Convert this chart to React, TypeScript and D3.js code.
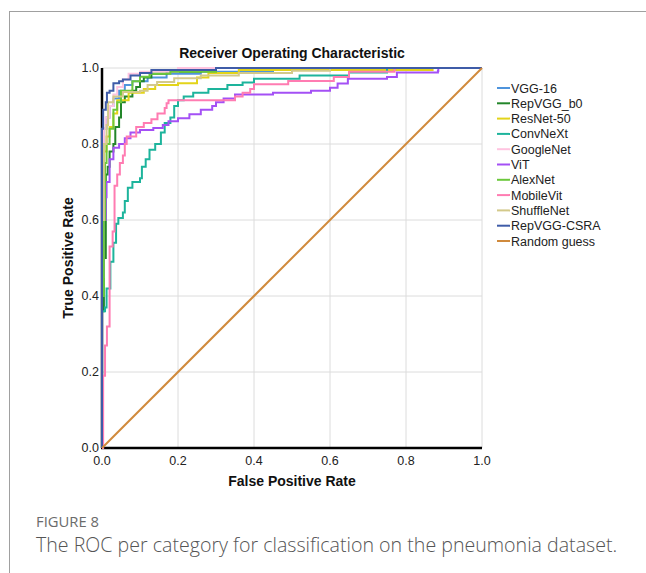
import React from "react";
import * as d3 from "d3";

// ROC points as [fpr, tpr], drawn with a step-after curve
const vgg16: [number, number][] = [
  [0, 0], [0, 0.8], [0.005, 0.84], [0.012, 0.87], [0.02, 0.9], [0.03, 0.92], [0.045, 0.94],
  [0.06, 0.955], [0.08, 0.965], [0.12, 0.975], [0.17, 0.985], [0.26, 0.99], [0.45, 1], [1, 1],
];
const repvggB0: [number, number][] = [
  [0, 0], [0, 0.36], [0.005, 0.5], [0.01, 0.72], [0.015, 0.74], [0.02, 0.78], [0.03, 0.8],
  [0.035, 0.845], [0.045, 0.87], [0.05, 0.91], [0.06, 0.925], [0.08, 0.94], [0.09, 0.95],
  [0.1, 0.965], [0.11, 0.975], [0.13, 0.985], [0.17, 0.99], [0.26, 1], [1, 1],
];
const resnet50: [number, number][] = [
  [0, 0], [0, 0.6], [0.005, 0.78], [0.012, 0.82], [0.02, 0.845], [0.03, 0.88], [0.04, 0.915],
  [0.07, 0.935], [0.11, 0.945], [0.14, 0.955], [0.2, 0.96], [0.25, 0.975], [0.28, 0.987],
  [0.36, 0.995], [0.87, 1], [1, 1],
];
const convnext: [number, number][] = [
  [0, 0], [0, 0.36], [0.008, 0.37], [0.012, 0.42], [0.022, 0.49], [0.03, 0.54], [0.037, 0.59],
  [0.043, 0.605], [0.055, 0.62], [0.06, 0.65], [0.068, 0.685], [0.08, 0.7], [0.1, 0.71],
  [0.105, 0.74], [0.115, 0.76], [0.125, 0.785], [0.14, 0.8], [0.155, 0.83], [0.165, 0.855],
  [0.18, 0.87], [0.19, 0.9], [0.2, 0.915], [0.215, 0.925], [0.24, 0.935], [0.28, 0.945],
  [0.33, 0.955], [0.37, 0.962], [0.4, 0.972], [0.52, 0.98], [0.65, 0.988], [0.75, 1], [1, 1],
];
const googlenet: [number, number][] = [
  [0, 0], [0, 0.78], [0.005, 0.84], [0.01, 0.87], [0.02, 0.9], [0.03, 0.93], [0.04, 0.95],
  [0.055, 0.97], [0.07, 0.985], [0.1, 0.99], [0.2, 1], [1, 1],
];
const vit: [number, number][] = [
  [0, 0], [0, 0.45], [0.005, 0.6], [0.01, 0.66], [0.012, 0.7], [0.02, 0.76], [0.03, 0.79],
  [0.045, 0.8], [0.06, 0.815], [0.075, 0.83], [0.1, 0.837], [0.135, 0.842], [0.16, 0.85],
  [0.175, 0.86], [0.2, 0.868], [0.23, 0.878], [0.26, 0.89], [0.29, 0.9], [0.3, 0.91],
  [0.32, 0.92], [0.35, 0.93], [0.45, 0.935], [0.55, 0.94], [0.6, 0.948], [0.62, 0.959],
  [0.647, 0.972], [0.75, 0.976], [0.776, 0.988], [0.884, 0.992], [0.885, 1], [1, 1],
];
const alexnet: [number, number][] = [
  [0, 0], [0, 0.4], [0.005, 0.6], [0.008, 0.75], [0.012, 0.8], [0.02, 0.84], [0.03, 0.89],
  [0.04, 0.91], [0.05, 0.94], [0.08, 0.965], [0.1, 0.977], [0.125, 0.985], [0.18, 0.99],
  [0.3, 1], [1, 1],
];
const mobilevit: [number, number][] = [
  [0, 0], [0.003, 0.19], [0.008, 0.27], [0.013, 0.32], [0.02, 0.53], [0.028, 0.57],
  [0.033, 0.69], [0.04, 0.72], [0.047, 0.75], [0.055, 0.77], [0.06, 0.8], [0.065, 0.82],
  [0.09, 0.845], [0.11, 0.855], [0.13, 0.865], [0.146, 0.88], [0.165, 0.895], [0.17, 0.907],
  [0.175, 0.915], [0.35, 0.925], [0.37, 0.935], [0.39, 0.945], [0.4, 0.957], [0.49, 0.966],
  [0.61, 0.976], [0.65, 0.99], [0.77, 1], [1, 1],
];
const shufflenet: [number, number][] = [
  [0, 0], [0, 0.6], [0.005, 0.8], [0.012, 0.85], [0.016, 0.91], [0.03, 0.925], [0.055, 0.937],
  [0.1, 0.94], [0.12, 0.955], [0.145, 0.963], [0.19, 0.973], [0.26, 0.98], [0.36, 0.987],
  [0.5, 0.993], [0.6, 1], [1, 1],
];
const repvggCsra: [number, number][] = [
  [0, 0], [0, 0.84], [0.003, 0.89], [0.01, 0.91], [0.013, 0.935], [0.02, 0.94], [0.03, 0.96],
  [0.045, 0.965], [0.055, 0.97], [0.075, 0.98], [0.1, 0.987], [0.13, 0.995], [0.3, 1], [1, 1],
];
const randomGuess: [number, number][] = [[0, 0], [1, 1]];

const seriesNames = [
  "VGG-16", "RepVGG_b0", "ResNet-50", "ConvNeXt", "GoogleNet", "ViT",
  "AlexNet", "MobileVit", "ShuffleNet", "RepVGG-CSRA", "Random guess",
];
const seriesData = [
  vgg16, repvggB0, resnet50, convnext, googlenet, vit,
  alexnet, mobilevit, shufflenet, repvggCsra, randomGuess,
];
const seriesColors = [
  "#4f94dc", "#23862a", "#e3d41a", "#1db49c", "#ffc4e0", "#a450f5",
  "#6cc83c", "#ff7cb2", "#d3c98a", "#3f5ca8", "#d08a3c",
];
const ticks = [0, 0.2, 0.4, 0.6, 0.8, 1.0];

const W = 646;
const H = 573;
const left = 102, top = 68, size = 380;
const font = "'Liberation Sans', Arial, sans-serif";

export default function App() {
  const x = d3.scaleLinear().domain([0, 1]).range([left, left + size]);
  const y = d3.scaleLinear().domain([0, 1]).range([top + size, top]);
  const step = d3.line<[number, number]>()
    .x((d) => x(d[0]))
    .y((d) => y(d[1]))
    .curve(d3.curveStepAfter);
  const straight = d3.line<[number, number]>()
    .x((d) => x(d[0]))
    .y((d) => y(d[1]));

  return (
    <svg width={W} height={H} style={{ position: "absolute", left: 0, top: 0, background: "#fff" }}>
      {/* frame of the figure */}
      <rect x={9.5} y={11.5} width={W} height={H} fill="none" stroke="#a0a0a0" strokeWidth={1} />

      <text x={x(0.5)} y={58} textAnchor="middle" fontFamily={font} fontWeight="bold" fontSize={14} fill="#111">
        Receiver Operating Characteristic
      </text>

      {/* grid */}
      {ticks.slice(1).map((t) => (
        <g key={"g" + t}>
          <line x1={x(t)} x2={x(t)} y1={y(0)} y2={y(1)} stroke="#dcdcdc" strokeWidth={1} />
          <line x1={x(0)} x2={x(1)} y1={y(t)} y2={y(t)} stroke="#dcdcdc" strokeWidth={1} />
        </g>
      ))}

      {/* tick labels */}
      {ticks.map((t) => (
        <text key={"x" + t} x={x(t)} y={y(0) + 17} textAnchor="middle" fontFamily={font} fontSize={12.5} fill="#222">
          {t.toFixed(1)}
        </text>
      ))}
      {ticks.map((t) => (
        <text key={"y" + t} x={left - 3} y={y(t) + 4} textAnchor="end" fontFamily={font} fontSize={12.5} fill="#222">
          {t.toFixed(1)}
        </text>
      ))}

      {/* axes */}
      <line x1={x(0)} x2={x(0)} y1={y(0)} y2={y(1)} stroke="#000" strokeWidth={2.5} />
      <line x1={x(0) - 1} x2={x(1)} y1={y(0)} y2={y(0)} stroke="#000" strokeWidth={2.5} />

      {/* curves */}
      {seriesData.map((d, i) => (
        <path
          key={seriesNames[i]}
          d={(i === seriesData.length - 1 ? straight(d) : step(d)) || ""}
          fill="none"
          stroke={seriesColors[i]}
          strokeWidth={2}
        />
      ))}

      {/* axis titles */}
      <text x={x(0.5)} y={486} textAnchor="middle" fontFamily={font} fontWeight="bold" fontSize={14} fill="#111">
        False Positive Rate
      </text>
      <text
        transform={`translate(73,${y(0.5)}) rotate(-90)`}
        textAnchor="middle"
        fontFamily={font}
        fontWeight="bold"
        fontSize={14}
        fill="#111"
      >
        True Positive Rate
      </text>

      {/* legend */}
      {seriesNames.map((n, i) => (
        <g key={"l" + n} transform={`translate(497,${88 + i * 15.3})`}>
          <line x1={0} x2={13} y1={0} y2={0} stroke={seriesColors[i]} strokeWidth={2} />
          <text x={14} y={4.5} fontFamily={font} fontSize={12.5} fill="#222">
            {n}
          </text>
        </g>
      ))}

      {/* caption */}
      <text x={36} y={527} fontFamily="'Open Sans', Lato, sans-serif" fontSize={14.8} fill="#6b6b6b">
        FIGURE 8
      </text>
      <text x={36} y={552} fontFamily="'Open Sans', Lato, sans-serif" fontWeight={300} fontSize={19.6} fill="#555">
        The ROC per category for classification on the pneumonia dataset.
      </text>
    </svg>
  );
}
